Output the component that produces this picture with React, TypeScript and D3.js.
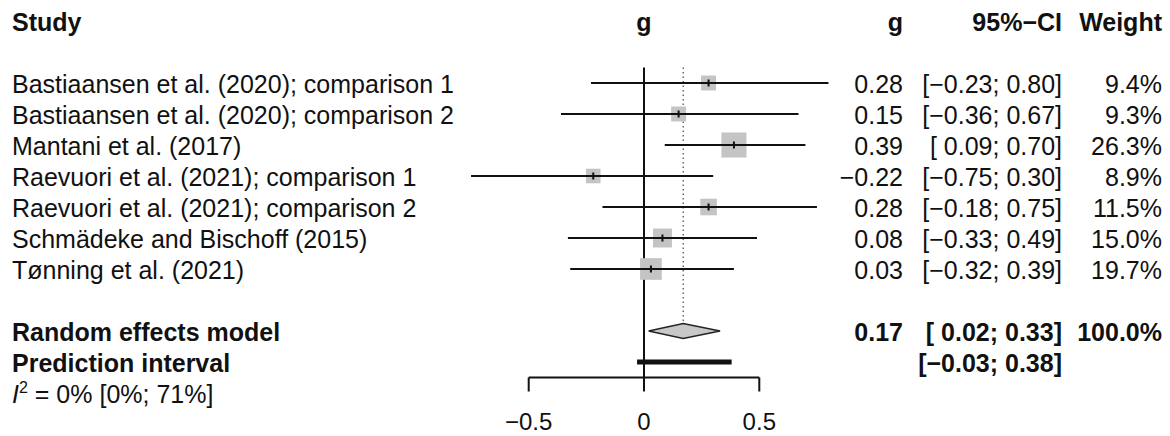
import React from "react";
import * as d3 from "d3";

const studies = [
  "Bastiaansen et al. (2020); comparison 1",
  "Bastiaansen et al. (2020); comparison 2",
  "Mantani et al. (2017)",
  "Raevuori et al. (2021); comparison 1",
  "Raevuori et al. (2021); comparison 2",
  "Schmädeke and Bischoff (2015)",
  "Tønning et al. (2021)",
];
const gValues = [0.28, 0.15, 0.39, -0.22, 0.28, 0.08, 0.03];
const lowerCI = [-0.23, -0.36, 0.09, -0.75, -0.18, -0.33, -0.32];
const upperCI = [0.8, 0.67, 0.7, 0.3, 0.75, 0.49, 0.39];
const weights = [9.4, 9.3, 26.3, 8.9, 11.5, 15.0, 19.7];

const pooled = { g: 0.17, lower: 0.02, upper: 0.33, weight: 100.0 };
const prediction = { lower: -0.03, upper: 0.38 };
const heterogeneity = { i2: 0, lower: 0, upper: 71 };
const axisTicks = [-0.5, 0, 0.5];

const FONT = "'Liberation Sans', Arial, Helvetica, sans-serif";
const FS = 25;
const BASE = 9.5;

const fmt = (v: number) => {
  const s = v.toFixed(2);
  return v < 0 ? "\u2212" + s.slice(1) : s;
};
const fmtCI = (lo: number, hi: number) => {
  const l = lo < 0 ? fmt(lo) : " " + fmt(lo);
  return `[${l}; ${fmt(hi)}]`;
};

export default function App() {
  const x = d3.scaleLinear().domain([-0.5, 0.5]).range([528.7, 759.3]);
  const rowY = d3.scaleLinear().domain([0, 1]).range([83, 114]);
  const sq = d3.scaleSqrt().domain([0, 100]).range([0, 48.9]);

  const colG = 903;
  const colCI = 1062;
  const colW = 1162;
  const yHead = rowY(-2);
  const yPooled = rowY(8);
  const yPred = rowY(9);
  const yAxis = rowY(9.5);
  const yTop = rowY(-0.5);
  const dHalf = 7.5;

  const textBase = { fontFamily: FONT, fontSize: FS, fill: "#111" } as const;

  return (
    <svg
      width={1170}
      height={436}
      style={{ position: "absolute", left: 0, top: 0, background: "#fff" }}
    >
      {/* headers */}
      <text x={12} y={yHead + BASE} {...textBase} fontWeight="bold">Study</text>
      <text x={x(0)} y={yHead + BASE} {...textBase} fontWeight="bold" textAnchor="middle">g</text>
      <text x={colG} y={yHead + BASE} {...textBase} fontWeight="bold" textAnchor="end">g</text>
      <text x={colCI} y={yHead + BASE} {...textBase} fontWeight="bold" textAnchor="end">95%−CI</text>
      <text x={colW} y={yHead + BASE} {...textBase} fontWeight="bold" textAnchor="end">Weight</text>

      {/* zero line */}
      <line x1={x(0)} x2={x(0)} y1={yTop} y2={yAxis} stroke="#111" strokeWidth={2} />
      {/* pooled dotted line */}
      <line
        x1={x(pooled.g)}
        x2={x(pooled.g)}
        y1={yTop}
        y2={yPooled - dHalf}
        stroke="#444"
        strokeWidth={1.2}
        strokeDasharray="1.5 3"
      />

      {studies.map((s, i) => {
        const y = rowY(i);
        const side = sq(weights[i]);
        return (
          <g key={s}>
            <text x={12} y={y + BASE} {...textBase}>{s}</text>
            <rect
              x={x(gValues[i]) - side / 2}
              y={y - side / 2}
              width={side}
              height={side}
              fill="#c4c4c4"
            />
            <line x1={x(lowerCI[i])} x2={x(upperCI[i])} y1={y} y2={y} stroke="#111" strokeWidth={2} />
            <line x1={x(gValues[i])} x2={x(gValues[i])} y1={y - 3.5} y2={y + 3.5} stroke="#111" strokeWidth={2} />
            <text x={colG} y={y + BASE} {...textBase} textAnchor="end">{fmt(gValues[i])}</text>
            <text x={colCI} y={y + BASE} {...textBase} textAnchor="end" style={{ whiteSpace: "pre" }}>
              {fmtCI(lowerCI[i], upperCI[i])}
            </text>
            <text x={colW} y={y + BASE} {...textBase} textAnchor="end">{weights[i].toFixed(1)}%</text>
          </g>
        );
      })}

      {/* pooled */}
      <text x={12} y={yPooled + BASE} {...textBase} fontWeight="bold">Random effects model</text>
      <polygon
        points={[
          [x(pooled.lower), yPooled],
          [x(pooled.g), yPooled - dHalf],
          [x(pooled.upper), yPooled],
          [x(pooled.g), yPooled + dHalf],
        ]
          .map((p) => p.join(","))
          .join(" ")}
        fill="#c8c8c8"
        stroke="#222"
        strokeWidth={1.3}
      />
      <text x={colG} y={yPooled + BASE} {...textBase} fontWeight="bold" textAnchor="end">{fmt(pooled.g)}</text>
      <text x={colCI} y={yPooled + BASE} {...textBase} fontWeight="bold" textAnchor="end" style={{ whiteSpace: "pre" }}>
        {fmtCI(pooled.lower, pooled.upper)}
      </text>
      <text x={colW} y={yPooled + BASE} {...textBase} fontWeight="bold" textAnchor="end">{pooled.weight.toFixed(1)}%</text>

      {/* prediction */}
      <text x={12} y={yPred + BASE} {...textBase} fontWeight="bold">Prediction interval</text>
      <line x1={x(prediction.lower)} x2={x(prediction.upper)} y1={yPred} y2={yPred} stroke="#111" strokeWidth={5} />
      <text x={colCI} y={yPred + BASE} {...textBase} fontWeight="bold" textAnchor="end" style={{ whiteSpace: "pre" }}>
        {fmtCI(prediction.lower, prediction.upper)}
      </text>

      {/* heterogeneity */}
      <text x={12} y={rowY(10) + BASE} {...textBase}>
        <tspan fontStyle="italic">I</tspan>
        <tspan fontSize={16} dy={-10}>2</tspan>
        <tspan dy={10}>{` = ${heterogeneity.i2}% [${heterogeneity.lower}%; ${heterogeneity.upper}%]`}</tspan>
      </text>

      {/* axis */}
      <line x1={x(-0.5)} x2={x(0.5)} y1={yAxis} y2={yAxis} stroke="#111" strokeWidth={2} />
      {axisTicks.map((t) => (
        <g key={t}>
          <line x1={x(t)} x2={x(t)} y1={yAxis} y2={yAxis + 14} stroke="#111" strokeWidth={2} />
          <text x={x(t)} y={430} {...textBase} fontSize={24} textAnchor="middle">
            {t < 0 ? "\u2212" + String(-t) : String(t)}
          </text>
        </g>
      ))}
    </svg>
  );
}
